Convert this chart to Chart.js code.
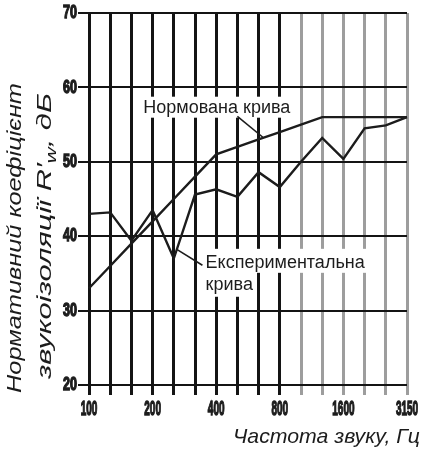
<!DOCTYPE html>
<html>
<head>
<meta charset="utf-8">
<script src="https://cdn.jsdelivr.net/npm/chart.js@4.4.1/dist/chart.umd.min.js"></script>
<style>
  html, body { margin: 0; padding: 0; background: #fff; }
  #wrap { width: 423px; height: 449px; }
</style>
</head>
<body>
<div id="wrap"><canvas id="c" width="423" height="449"></canvas></div>
<script>
// 1/3-octave band centre frequencies, Hz
const FREQUENCIES = ['100', '125', '160', '200', '250', '315', '400', '500', '630', '800', '1000', '1250', '1600', '2000', '2500', '3150'];
// Reference (normalised) curve, dB
const REFERENCE_CURVE = [33, 36, 39, 42, 45, 48, 51, 52, 53, 54, 55, 56, 56, 56, 56, 56];
// Measured (experimental) curve, dB
const MEASURED_CURVE = [43, 43.2, 39.4, 43.5, 37, 45.6, 46.3, 45.3, 48.6, 46.6, 50, 53.2, 50.4, 54.5, 54.9, 56];
// Labelled frequencies on the horizontal axis
const X_TICK_LABELS = ['100', '200', '400', '800', '1600', '3150'];
// Vertical axis range and step, dB
const Y_MIN = 20;
const Y_MAX = 70;
const Y_STEP = 10;

const TEXT_REFERENCE = 'Нормована крива';
const TEXT_MEASURED = ['Експериментальна', 'крива'];
const Y_TITLE = ['Нормативний коефіцієнт', 'звукоізоляції R′', 'w', ', дБ'];
const X_TITLE = 'Частота звуку, Гц';

// Callout placement in axis units (x = band index, y = dB)
const CALLOUTS = {
  reference: { text: { x: 2.56, y: 56.6 }, from: { x: 7.0, y: 56.1 }, to: { x: 8.2, y: 53.3 } },
  measured: { text: { x: 5.5, y: 35.75 }, text2: { x: 5.5, y: 32.8 }, from: { x: 5.35, y: 36.1 }, to: { x: 4.16, y: 38.2 } }
};

const INK = '#1c1c1c';
const GRID_DARK = '#141414';
const GRID_LIGHT = '#9d9d9d';

function fillStretched(ctx, text, x, y, sx, align, heavy) {
  ctx.save();
  ctx.translate(x, y);
  ctx.scale(sx, 1);
  ctx.textAlign = align;
  if (heavy) {
    ctx.lineWidth = 1.4;
    ctx.strokeText(text, 0, 0);
  }
  ctx.fillText(text, 0, 0);
  ctx.restore();
}

const decorations = {
  id: 'decorations',
  beforeDatasetsDraw(chart) {
    const { ctx, scales: { x, y } } = chart;
    ctx.save();
    ctx.fillStyle = '#fff';
    ctx.font = '18px "Liberation Sans", Arial, sans-serif';
    // white backing behind callout texts
    const r = CALLOUTS.reference.text;
    const rx = x.getPixelForValue(r.x), ry = y.getPixelForValue(r.y);
    const rw = ctx.measureText(TEXT_REFERENCE).width;
    ctx.fillRect(rx - 3, ry - 16, rw + 6, 21);
    const m = CALLOUTS.measured.text;
    const mx = x.getPixelForValue(m.x), my = y.getPixelForValue(m.y);
    const mw = ctx.measureText(TEXT_MEASURED[0]).width;
    ctx.fillRect(mx - 3, my - 19, mw + 6, 24);
    const m2 = CALLOUTS.measured.text2;
    const m2y = y.getPixelForValue(m2.y);
    const mw2 = ctx.measureText(TEXT_MEASURED[1]).width;
    ctx.fillRect(mx - 3, m2y - 18, mw2 + 6, 25);
    ctx.restore();
  },
  afterDatasetsDraw(chart) {
    const { ctx, scales: { x, y } } = chart;
    ctx.save();
    ctx.fillStyle = INK;
    ctx.strokeStyle = INK;
    ctx.lineWidth = 1.6;
    ctx.textBaseline = 'alphabetic';
    ctx.font = '18px "Liberation Sans", Arial, sans-serif';

    const ref = CALLOUTS.reference;
    ctx.textAlign = 'left';
    ctx.fillText(TEXT_REFERENCE, x.getPixelForValue(ref.text.x), y.getPixelForValue(ref.text.y));
    ctx.beginPath();
    ctx.moveTo(x.getPixelForValue(ref.from.x), y.getPixelForValue(ref.from.y));
    ctx.lineTo(x.getPixelForValue(ref.to.x), y.getPixelForValue(ref.to.y));
    ctx.stroke();

    const mea = CALLOUTS.measured;
    ctx.fillText(TEXT_MEASURED[0], x.getPixelForValue(mea.text.x), y.getPixelForValue(mea.text.y));
    ctx.fillText(TEXT_MEASURED[1], x.getPixelForValue(mea.text2.x), y.getPixelForValue(mea.text2.y));
    ctx.beginPath();
    ctx.moveTo(x.getPixelForValue(mea.from.x), y.getPixelForValue(mea.from.y));
    ctx.lineTo(x.getPixelForValue(mea.to.x), y.getPixelForValue(mea.to.y));
    ctx.stroke();
    ctx.restore();
  },
  afterDraw(chart) {
    const { ctx, scales: { x, y }, chartArea } = chart;
    ctx.save();
    ctx.fillStyle = INK;
    ctx.strokeStyle = INK;
    ctx.textBaseline = 'middle';

    // condensed heavy tick labels placed by the scales
    ctx.font = 'bold 20px "Liberation Sans", Arial, sans-serif';
    X_TICK_LABELS.forEach(lbl => {
      const px = x.getPixelForValue(FREQUENCIES.indexOf(lbl));
      fillStretched(ctx, lbl, px, chartArea.bottom + 24, 0.5, 'center', true);
    });
    ctx.font = 'bold 19px "Liberation Sans", Arial, sans-serif';
    y.ticks.forEach(t => {
      fillStretched(ctx, String(t.value), chartArea.left - 12, y.getPixelForValue(t.value), 0.66, 'right', true);
    });

    // horizontal axis title
    ctx.font = 'italic 21px "Liberation Sans", Arial, sans-serif';
    ctx.textBaseline = 'alphabetic';
    const xw = ctx.measureText(X_TITLE).width;
    fillStretched(ctx, X_TITLE, 420, 443, 187 / xw, 'right', false);

    // vertical axis title, two rotated lines
    ctx.save();
    ctx.translate(21, 238);
    ctx.rotate(-Math.PI / 2);
    const w1 = ctx.measureText(Y_TITLE[0]).width;
    fillStretched(ctx, Y_TITLE[0], 0, 0, 310 / w1, 'center', false);
    ctx.restore();

    ctx.save();
    ctx.translate(51, 236);
    ctx.rotate(-Math.PI / 2);
    const partA = ctx.measureText(Y_TITLE[1]).width;
    ctx.font = 'italic 15px "Liberation Sans", Arial, sans-serif';
    const partB = ctx.measureText(Y_TITLE[2]).width;
    ctx.font = 'italic 21px "Liberation Sans", Arial, sans-serif';
    const partC = ctx.measureText(Y_TITLE[3]).width;
    const total = partA + partB + partC;
    const s = 286 / total;
    ctx.scale(s, 1);
    let cx = -total / 2;
    ctx.textAlign = 'left';
    ctx.fillText(Y_TITLE[1], cx, 0);
    cx += partA;
    ctx.font = 'italic 15px "Liberation Sans", Arial, sans-serif';
    ctx.fillText(Y_TITLE[2], cx, 5);
    cx += partB;
    ctx.font = 'italic 21px "Liberation Sans", Arial, sans-serif';
    ctx.fillText(Y_TITLE[3], cx, 0);
    ctx.restore();

    ctx.restore();
  }
};

new Chart(document.getElementById('c'), {
  type: 'line',
  data: {
    labels: FREQUENCIES,
    datasets: [
      { label: TEXT_REFERENCE, data: REFERENCE_CURVE, borderColor: INK, borderWidth: 2.4, pointRadius: 0, tension: 0, fill: false },
      { label: TEXT_MEASURED.join(' '), data: MEASURED_CURVE, borderColor: INK, borderWidth: 2.4, pointRadius: 0, tension: 0, fill: false }
    ]
  },
  options: {
    responsive: false,
    animation: false,
    layout: { padding: { left: 0, right: 16, top: 13, bottom: 0 } },
    plugins: { legend: { display: false }, tooltip: { enabled: false }, title: { display: false } },
    scales: {
      x: {
        type: 'category',
        offset: false,
        border: { display: false },
        grid: {
          color: c => (c.index >= 10 ? GRID_LIGHT : GRID_DARK),
          lineWidth: 3,
          tickLength: 10,
          drawTicks: true
        },
        ticks: { display: false, autoSkip: false },
        afterFit: s => { s.height = 64; }
      },
      y: {
        type: 'linear',
        min: Y_MIN,
        max: Y_MAX,
        border: { display: false },
        grid: { color: GRID_DARK, lineWidth: 2, tickLength: 11, drawTicks: true },
        ticks: { display: false, stepSize: Y_STEP },
        afterFit: s => { s.width = 89; }
      }
    }
  },
  plugins: [decorations]
});
</script>
</body>
</html>
